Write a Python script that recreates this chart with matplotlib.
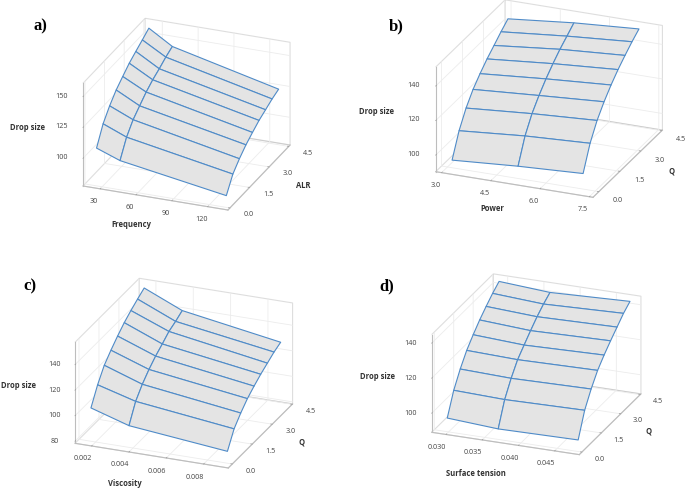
import numpy as np
import matplotlib
matplotlib.use("Agg")
import matplotlib.pyplot as plt
from matplotlib.transforms import ScaledTranslation
from mpl_toolkits.mplot3d import proj3d

plt.rcParams['font.family'] = ['Open Sans', 'DejaVu Sans']
plt.rcParams['grid.color'] = '#ececec'
plt.rcParams['grid.linewidth'] = 0.6

W, H = 685, 488

# ---------- data ----------
q_values = [0.0, 0.5, 1.0, 1.5, 2.0, 2.5, 3.0, 3.5, 4.0]

freq_values = [25.3, 45.0, 134.0]
drop_a = [
    [108.2, 122.3, 131.3, 138.6, 144.0, 149.2, 153.2, 157.0, 161.0],
    [101.2, 114.6, 123.2, 128.9, 134.5, 138.9, 142.3, 146.2, 149.3],
    [87.1, 99.0, 105.9, 111.6, 116.1, 120.3, 123.4, 126.6, 129.0],
]
power_values = [3.14, 5.15, 7.13]
drop_b = [
    [94.8, 107.9, 117.1, 124.0, 129.2, 133.8, 137.7, 141.7, 145.3],
    [97.5, 111.1, 120.1, 126.7, 132.4, 137.3, 141.7, 145.4, 149.2],
    [99.4, 113.0, 122.3, 129.2, 135.0, 140.0, 144.3, 148.3, 151.8],
]
visc_values = [0.00175, 0.00379, 0.00906]
drop_c = [
    [104.5, 117.4, 127.5, 134.1, 140.0, 145.3, 149.6, 153.4, 156.9],
    [95.4, 109.2, 117.4, 123.8, 129.1, 133.4, 138.0, 140.7, 144.0],
    [87.7, 100.1, 107.3, 113.4, 118.0, 122.1, 125.6, 129.1, 131.6],
]
tension_values = [0.02981, 0.03685, 0.04789]
drop_d = [
    [96.9, 109.1, 117.6, 124.6, 129.9, 134.7, 138.8, 142.6, 145.8],
    [95.1, 108.2, 116.7, 123.7, 128.4, 133.0, 137.3, 140.9, 143.9],
    [95.7, 109.0, 117.5, 124.5, 129.6, 134.1, 138.3, 142.5, 145.7],
]

panels = [
    dict(tag='a)', xv=freq_values, z=drop_a, xl='Frequency', yl='ALR',
         xt=[30, 60, 90, 120], xf='{:.0f}', yt=[0, 1.5, 3, 4.5], zt=[100, 125, 150],
         xlim=(15.6, 137), ylim=(-0.15, 4.6), zlim=(77.6, 160.8),
         theta=21.7, elev=24.6, box=(156, 168, 113), corner=(83, 186),
         tagxy=(40, 26),
         tick_off=[(0, 7), (5, 9), (-1, 8)], lab_off=[(-9, 13), (10, 22), (9, 20)]),
    dict(tag='b)', xv=power_values, z=drop_b, xl='Power', yl='Q',
         xt=[3.0, 4.5, 6.0, 7.5], xf='{:.1f}', yt=[0, 1.5, 3, 4.5], zt=[100, 120, 140],
         xlim=(2.82, 7.61), ylim=(-0.42, 4.55), zlim=(90.4, 151),
         theta=22.3, elev=23.4, box=(170, 183, 114), corner=(435.7, 171.7),
         tagxy=(396, 26),
         tick_off=[(0, 6), (5, 6), (-2, 8)], lab_off=[(-7, 14), (9, 21), (7, 20)]),
    dict(tag='c)', xv=visc_values, z=drop_c, xl='Viscosity', yl='Q',
         xt=[0.002, 0.004, 0.006, 0.008], xf='{:.3f}', yt=[0, 1.5, 3, 4.5], zt=[80, 100, 120, 140],
         xlim=(0.00111, 0.00932), ylim=(-0.3, 4.53), zlim=(78.4, 157.5),
         theta=21.9, elev=23.6, box=(165.2, 172.4, 110.2), corner=(75, 443.3),
         tagxy=(30, 286),
         tick_off=[(-3, 6), (4, 8), (0, 7)], lab_off=[(-12, 10), (6, 23), (9, 19)]),
    dict(tag='d)', xv=tension_values, z=drop_d, xl='Surface tension', yl='Q',
         xt=[0.030, 0.035, 0.040, 0.045], xf='{:.3f}', yt=[0, 1.5, 3, 4.5], zt=[100, 120, 140],
         xlim=(0.02802, 0.0484), ylim=(-0.2, 4.56), zlim=(89.1, 144.9),
         theta=21.4, elev=22.7, box=(158.5, 169, 105.9), corner=(431.7, 432.3),
         tagxy=(387, 286),
         tick_off=[(-3, 6), (3, 8), (-1, 7)], lab_off=[(-15, 8), (3, 22), (11, 19)]),
]

# ---------- drawing ----------
EDGE = '#bdbdbd'
fig = plt.figure(figsize=(W / 100, H / 100), dpi=100, facecolor='white')
axes = []


def shifted(ax, dx, dy):
    """Data transform of ax moved by (dx, dy) pixels of the 100 dpi figure."""
    return ax.transData + ScaledTranslation(dx / 100, dy / 100, fig.dpi_scale_trans)


def offset_tick_labels(axis, tr):
    """Axis3D resets tick label transforms in get_major_ticks; reapply the shift."""
    original = axis.get_major_ticks

    def patched(numticks=None):
        ticks = original(numticks)
        for t in ticks:
            t.label1.set_transform(tr)
        return ticks
    axis.get_major_ticks = patched


def offset_axis_label(axis, tr):
    """Axis3D resets the label transform at each draw; reapply it when placed."""
    label = axis.label
    original = label.set_position

    def patched(xy):
        label._transform = tr
        original(xy)
    label.set_position = patched


for p in panels:
    side = np.linalg.norm(p['box']) * 0.9708
    ax = fig.add_axes([0.2, 0.2, side / W, side / H], projection='3d', proj_type='ortho')
    ax.patch.set_visible(False)
    ax.view_init(elev=p['elev'], azim=-90 + p['theta'])
    ax.set_box_aspect(p['box'])
    X, Y = np.meshgrid(p['xv'], q_values, indexing='ij')
    ax.plot_surface(X, Y, np.array(p['z']), rstride=1, cstride=1, color='#e4e4e4',
                    edgecolor='#4f8bc8', linewidth=0.8, shade=False)
    ax.set_xlim(*p['xlim']); ax.set_ylim(*p['ylim']); ax.set_zlim(*p['zlim'])
    ax.set_xticks(p['xt']); ax.set_xticklabels([p['xf'].format(v) for v in p['xt']])
    ax.set_yticks(p['yt']); ax.set_yticklabels(['{:.1f}'.format(v) for v in p['yt']])
    ax.set_zticks(p['zt']); ax.set_zticklabels([str(v) for v in p['zt']])
    ax.zaxis.set_ticks_position('lower')
    ax.zaxis.set_label_position('lower')
    ax.tick_params(labelsize=5.2, labelcolor='#444444', color='#999999', pad=1)
    lab = dict(fontsize=5.5, fontweight='bold', color='#333333', rotation=0)
    ax.set_xlabel(p['xl'], labelpad=1, **lab)
    ax.set_ylabel(p['yl'], labelpad=1, **lab)
    ax.set_zlabel('Drop size', labelpad=8, **lab)
    for i, axis in enumerate((ax.xaxis, ax.yaxis, ax.zaxis)):
        axis.pane.fill = False
        axis.pane.set_edgecolor(EDGE)
        axis.pane.set_linewidth(0.8)
        axis.line.set_color(EDGE)
        axis.line.set_linewidth(0.8)
        axis.set_rotate_label(False)
        axis._axinfo['tick']['inward_factor'] = 0.0
        axis._axinfo['tick']['outward_factor'] = 0.12
        axis._axinfo['tick']['linewidth'] = {True: 0.5, False: 0.3}
        offset_tick_labels(axis, shifted(ax, *p['tick_off'][i]))
        offset_axis_label(axis, shifted(ax, *p['lab_off'][i]))
    axes.append(ax)

# put each box's front-left-bottom corner at its pixel location
fig.canvas.draw()
for ax, p in zip(axes, panels):
    x2, y2, _ = proj3d.proj_transform(p['xlim'][0], p['ylim'][0], p['zlim'][0], ax.get_proj())
    px, py = ax.transData.transform((x2, y2))
    pos = ax.get_position()
    ax.set_position([pos.x0 + (p['corner'][0] - px) / W,
                     pos.y0 + ((H - p['corner'][1]) - py) / H,
                     pos.width, pos.height])
    fig.text(p['tagxy'][0] / W, 1 - p['tagxy'][1] / H, p['tag'], family='Liberation Serif',
             fontweight='bold', fontsize=12, ha='center', va='center', color='black')

fig.savefig('out.png', dpi=100)
